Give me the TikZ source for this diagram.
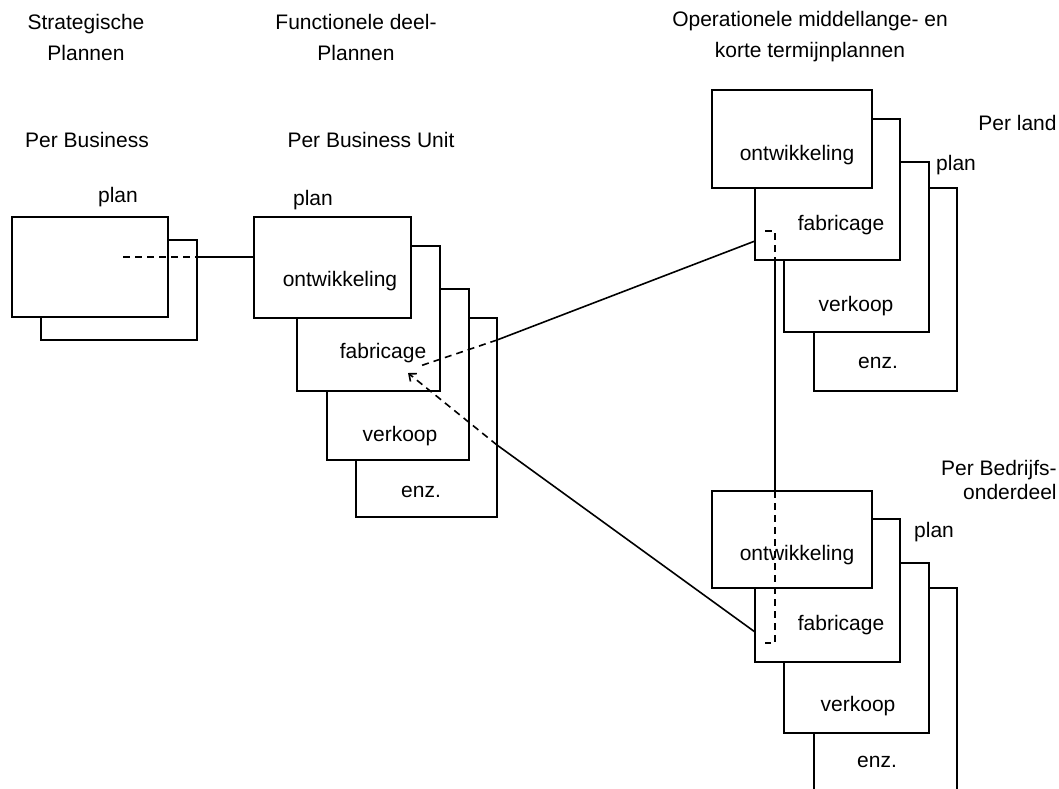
\documentclass[tikz,border=0pt]{standalone}
\usepackage{fontspec}
\setmainfont{Liberation Sans}
\usetikzlibrary{arrows.meta,positioning,fit}
\tikzset{
    planbox/.style={draw, fill=white, line width=1pt, inner sep=0pt},
    lbl/.style={font=\fontsize{10.5}{15.5}\selectfont, inner sep=0pt, align=center},
    link/.style={line width=0.8pt},
    hidden/.style={line width=0.8pt, dash pattern=on 3.5pt off 2.5pt},
    back/.style={hidden, -{Straight Barb[length=3pt, width=5pt]}}
}

\begin{document}
\begin{tikzpicture}[x=0.5pt, y=-0.5pt]
\useasboundingbox (0,0) rectangle (1059,788);
\clip (0,0) rectangle (1059,788);

\node[lbl] (hStrat) at (86,37) {Strategische\\Plannen};
\node[lbl] (hFunc) at (356,37) {Functionele deel-\\Plannen};
\node[lbl] (hOper) at (810,37) {Operationele middellange- en\\korte termijnplannen};
\node[lbl] (pBus) at (87,140) {Per Business};
\node[lbl] (pUnit) at (371,140) {Per Business Unit};
\node[lbl, anchor=east] (pLand) at (1057,123) {Per land};
\node[lbl, anchor=east, align=right, font=\fontsize{10.5}{12}\selectfont] (pBedr) at (1057,480) {Per Bedrijfs-\\onderdeel};

% strategische plannen
\node[planbox, fit={(41,240) (197,340)}] (sp2) {};
\node[planbox, fit={(12,217) (168,317)}] (sp1) {};
\node[lbl] (plan1) at (118,197) {plan};

% functionele deelplannen
\node[planbox, fit={(356,318) (497,517)}] (bu4) {};
\node[planbox, fit={(327,289) (469,460)}] (bu3) {};
\node[planbox, fit={(297,246) (440,391)}] (bu2) {};
\node[planbox, fit={(254,217) (411,318)}] (bu1) {};
\node[lbl] (plan2) at (313,200) {plan};
\node[lbl] (tBu1) at (340,281) {ontwikkeling};
\node[lbl] (tBu2) at (383,353) {fabricage};
\node[lbl] (tBu3) at (400,436) {verkoop};
\node[lbl] (tBu4) at (421,492) {enz.};

% per land
\node[planbox, fit={(814,188) (957,391)}] (la4) {};
\node[planbox, fit={(784,162) (929,332)}] (la3) {};
\node[planbox, fit={(755,119) (900,260)}] (la2) {};
\node[planbox, fit={(712,90) (872,188)}] (la1) {};
\node[lbl] (plan3) at (956,165) {plan};
\node[lbl] (tLa1) at (797,155) {ontwikkeling};
\node[lbl] (tLa2) at (841,225) {fabricage};
\node[lbl] (tLa3) at (856,306) {verkoop};
\node[lbl] (tLa4) at (878,363) {enz.};

% per bedrijfsonderdeel
\node[planbox, fit={(814,588) (957,800)}] (bd4) {};
\node[planbox, fit={(784,563) (929,733)}] (bd3) {};
\node[planbox, fit={(755,519) (900,662)}] (bd2) {};
\node[planbox, fit={(712,491) (872,588)}] (bd1) {};
\node[lbl] (plan4) at (934,532) {plan};
\node[lbl] (tBd1) at (797,555) {ontwikkeling};
\node[lbl] (tBd2) at (841,625) {fabricage};
\node[lbl] (tBd3) at (858,706) {verkoop};
\node[lbl] (tBd4) at (877,762) {enz.};

% verbindingen
\coordinate (spIn) at (123,257);
\draw[hidden] (spIn) -- (spIn -| sp2.east);
\draw[link] (spIn -| sp2.east) -- (spIn -| bu1.west);

\coordinate (fabU) at (420,366);
\coordinate (exitU) at (497,340);
\coordinate (laIn) at (755,241);
\draw[link] (laIn) -- (exitU);
\draw[hidden] (exitU) -- (fabU);

\coordinate (fabL) at (408,373);
\coordinate (exitL) at (497,445);
\coordinate (bdIn) at (755,632);
\draw[link] (bdIn) -- (exitL);
\draw[back] (exitL) -- (fabL);

\coordinate (vTop) at (765,231);
\coordinate (vA) at (775,260);
\coordinate (vB) at (775,491);
\coordinate (vBot) at (765,643);
\draw[hidden] (vTop) -- (vTop -| vA) -- (vA);
\draw[link] (vA) -- (vB);
\draw[hidden] (vB) -- (vBot -| vB) -- (vBot);
\end{tikzpicture}
\end{document}
